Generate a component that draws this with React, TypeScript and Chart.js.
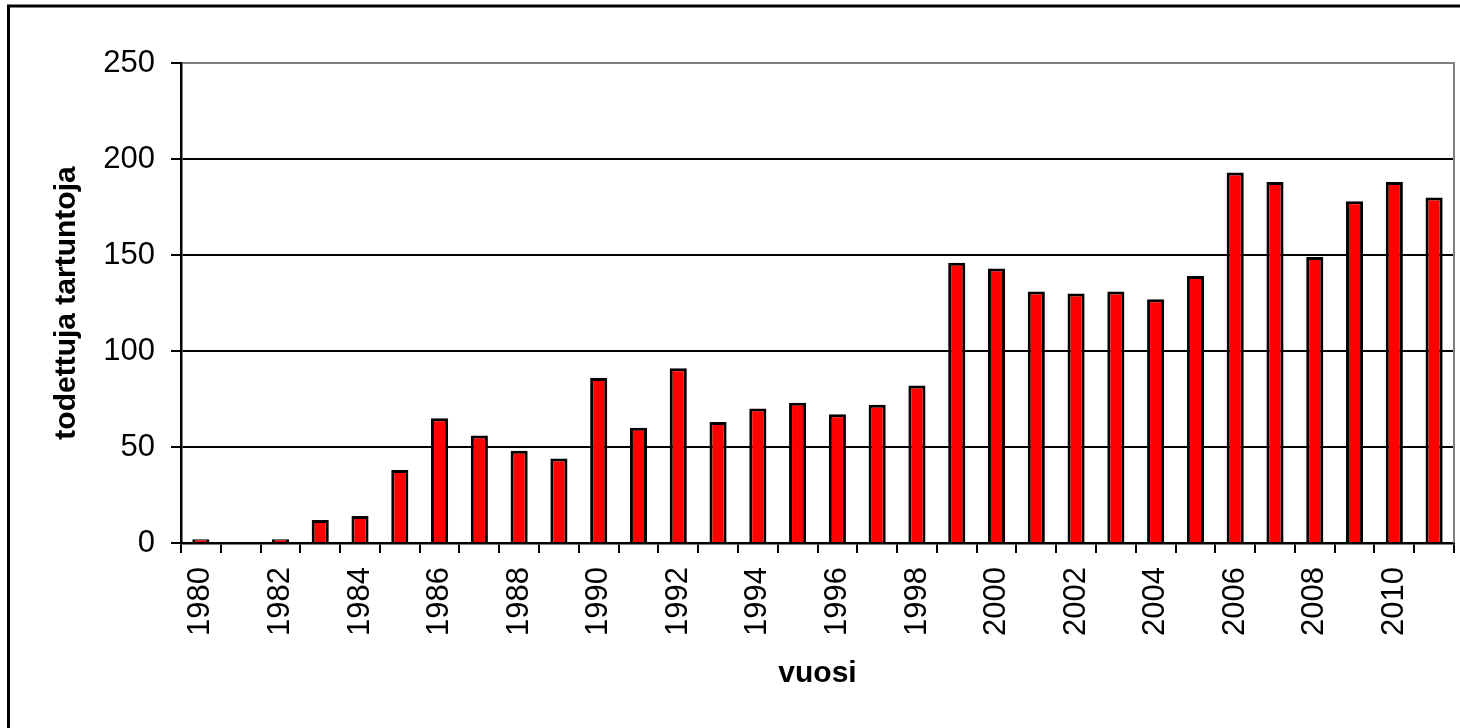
import React, { useEffect, useRef } from "react";
import { Chart, registerables } from "chart.js";

Chart.register(...registerables);

const years: string[] = [
  "1980", "1981", "1982", "1983", "1984", "1985", "1986", "1987", "1988", "1989",
  "1990", "1991", "1992", "1993", "1994", "1995", "1996", "1997", "1998", "1999",
  "2000", "2001", "2002", "2003", "2004", "2005", "2006", "2007", "2008", "2009",
  "2010", "2011",
];

const infections: number[] = [
  2, 0, 2, 12, 14, 38, 65, 56, 48, 44,
  86, 60, 91, 63, 70, 73, 67, 72, 82, 146,
  143, 131, 130, 131, 127, 139, 193, 188, 149, 178,
  188, 180,
];

const yTickValues: number[] = [0, 50, 100, 150, 200, 250];

const yTitle = "todettuja tartuntoja";
const xTitle = "vuosi";

const FONT = "'Liberation Sans', Arial, sans-serif";

const framePlugin = {
  id: "framePlugin",
  beforeDatasetsDraw(chart: any) {
    const { ctx, chartArea } = chart;
    ctx.save();
    ctx.strokeStyle = "#808080";
    ctx.lineWidth = 2;
    ctx.beginPath();
    ctx.moveTo(chartArea.right, chartArea.top - 1);
    ctx.lineTo(chartArea.right, chartArea.bottom);
    ctx.stroke();
    ctx.restore();
  },
  afterDraw(chart: any) {
    const { ctx, width, height } = chart;
    ctx.save();
    ctx.strokeStyle = "#000";
    ctx.lineWidth = 3;
    ctx.beginPath();
    ctx.moveTo(8.5, height + 10);
    ctx.lineTo(8.5, 6);
    ctx.lineTo(width + 10, 6);
    ctx.stroke();
    ctx.restore();
  },
};

export default function App() {
  const canvasRef = useRef<HTMLCanvasElement | null>(null);

  useEffect(() => {
    if (!canvasRef.current) return;
    const chart = new Chart(canvasRef.current, {
      type: "bar",
      data: {
        labels: years,
        datasets: [
          {
            data: infections,
            backgroundColor: "#FF0000",
            borderColor: "#000000",
            borderWidth: 3,
            barPercentage: 0.43,
            categoryPercentage: 1,
          },
        ],
      },
      plugins: [framePlugin],
      options: {
        animation: false,
        responsive: false,
        devicePixelRatio: 1,
        layout: { padding: { left: 0, top: 63, right: 6, bottom: 0 } },
        plugins: {
          legend: { display: false },
          tooltip: { enabled: false },
        },
        scales: {
          x: {
            offset: true,
            grid: {
              offset: true,
              drawOnChartArea: false,
              drawTicks: true,
              tickLength: 10,
              color: "#000",
              tickColor: "#000",
              lineWidth: 2,
            },
            border: { display: true, color: "#000", width: 2.5 },
            ticks: {
              autoSkip: false,
              maxRotation: 90,
              minRotation: 90,
              padding: 14,
              color: "#000",
              font: { family: FONT, size: 31 },
              callback: (_v: any, i: number) => (i % 2 === 0 ? years[i] : ""),
            },
            title: {
              display: true,
              text: xTitle,
              color: "#000",
              font: { family: FONT, size: 30, weight: "bold" },
              padding: { top: 0, bottom: 36 },
            },
            afterFit: (s: any) => {
              s.height = 185;
              s.paddingLeft = 0;
              s.paddingRight = 0;
            },
          },
          y: {
            min: 0,
            max: 250,
            afterBuildTicks: (s: any) => {
              s.ticks = yTickValues.map((v) => ({ value: v }));
            },
            grid: {
              drawTicks: true,
              tickLength: 10,
              lineWidth: 2,
              color: (c: any) => (c.tick && c.tick.value === 250 ? "#808080" : "#000"),
              tickColor: "#000",
            },
            border: { display: true, color: "#000", width: 2.5 },
            ticks: {
              padding: 16,
              color: "#000",
              font: { family: FONT, size: 31 },
            },
            title: {
              display: true,
              text: yTitle,
              color: "#000",
              font: { family: FONT, size: 30, weight: "bold" },
              padding: { top: 49, bottom: 0 },
            },
            afterFit: (s: any) => {
              s.width = 181;
              s.paddingTop = 0;
              s.paddingBottom = 0;
            },
          },
        },
      },
    });
    return () => chart.destroy();
  }, []);

  return (
    <div
      style={{
        position: "fixed",
        left: 0,
        top: 0,
        width: 1460,
        height: 728,
        background: "#fff",
        overflow: "hidden",
      }}
    >
      <canvas ref={canvasRef} width={1460} height={728} style={{ display: "block" }} />
    </div>
  );
}
